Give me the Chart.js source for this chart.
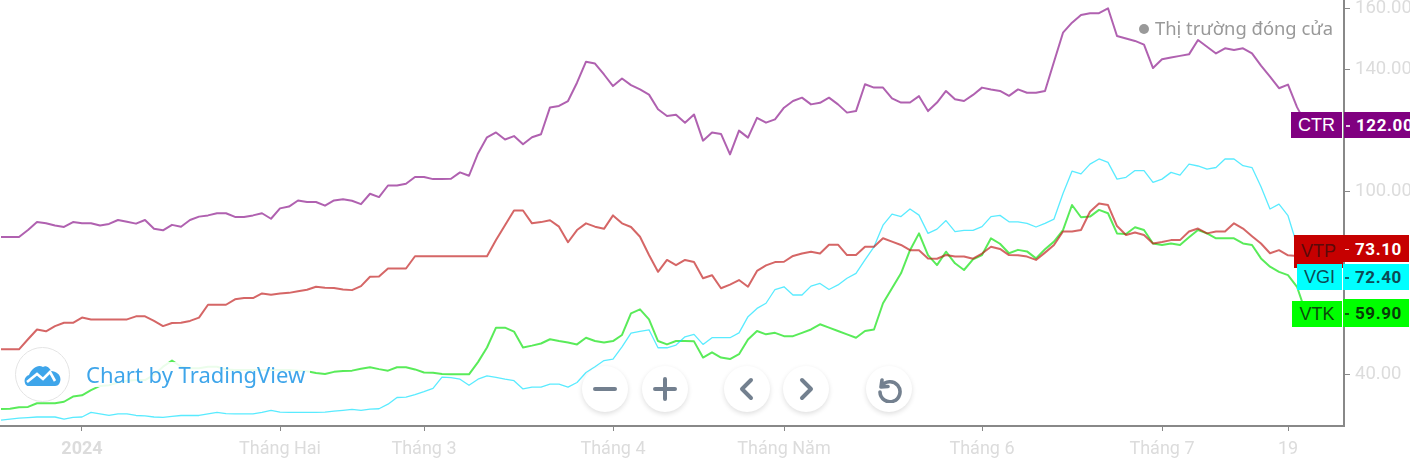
<!DOCTYPE html>
<html><head><meta charset="utf-8">
<script src="https://cdn.jsdelivr.net/npm/chart.js@4"></script>
<style>
html,body{margin:0;padding:0;background:#fff;width:1410px;height:460px;overflow:hidden}
#wrap{position:relative;width:1410px;height:460px}
canvas{position:absolute;left:0;top:0}
.tag{position:absolute;display:flex;align-items:center;justify-content:center;font-family:"Liberation Sans",Arial,sans-serif;font-size:18px;box-sizing:border-box}
.val{justify-content:flex-start;padding-left:12px;font-family:Roboto,sans-serif;font-weight:700;font-size:17px;letter-spacing:.6px}
.val i{position:absolute;left:2px;top:50%;width:4px;height:1.5px;background:currentColor;opacity:.8}
.btn{position:absolute;top:366px;width:46px;height:46px;border-radius:50%;background:#fff;box-shadow:0 2px 5px rgba(0,0,0,.13);display:flex;align-items:center;justify-content:center}
#legend{position:absolute;left:1139px;top:16px;color:#999;font:18.4px "Noto Sans",sans-serif;white-space:nowrap;line-height:24px}
#legend b{display:inline-block;width:10px;height:10px;border-radius:50%;background:#999;margin-right:6px;vertical-align:1px}
#wm{position:absolute;left:84px;top:362px;height:25px;width:226px;background:rgba(255,255,255,.88);color:#3ea5ea;font:22px "Noto Sans",sans-serif;line-height:24px;padding-left:2px;box-sizing:border-box;white-space:nowrap}
#logo{position:absolute;left:15px;top:347px;width:55px;height:55px;border-radius:50%;border:1px solid #e4e4e4;background:#fff;box-sizing:border-box;display:flex;align-items:center;justify-content:center}
</style></head><body>
<div id="wrap">
<canvas id="c" width="1410" height="460"></canvas>
<div id="legend"><b></b>Thị trường đóng cửa</div>
<div id="logo"><svg width="38" height="24" viewBox="0 0 38 24"><path d="M2 22C-1 18 1 13 5 12 8 5 14 1 19 4 22 2 26 5 27 8 33 8 38 13 36 19 35 22 33 23 31 23H5C4 23 3 23 2 22Z" fill="#3ea5ea"/><path d="M3 19 13 11 19 16 26 9 31 18" fill="none" stroke="#fff" stroke-width="2.6"/></svg></div>
<div id="wm">Chart by TradingView</div>
<div class="btn" style="left:582px"><svg width="24" height="24" viewBox="0 0 24 24"><path d="M2 12H22" stroke="#73808f" stroke-width="4" stroke-linecap="round"/></svg></div>
<div class="btn" style="left:642px"><svg width="24" height="24" viewBox="0 0 24 24"><path d="M2 12H22M12 2V22" stroke="#73808f" stroke-width="4" stroke-linecap="round"/></svg></div>
<div class="btn" style="left:724px"><svg width="24" height="24" viewBox="0 0 24 24"><path d="M16 3 7 12 16 21" fill="none" stroke="#73808f" stroke-width="4" stroke-linecap="round" stroke-linejoin="round"/></svg></div>
<div class="btn" style="left:783px"><svg width="24" height="24" viewBox="0 0 24 24"><path d="M8 3 17 12 8 21" fill="none" stroke="#73808f" stroke-width="4" stroke-linecap="round" stroke-linejoin="round"/></svg></div>
<div class="btn" style="left:866px"><svg width="28" height="28" viewBox="0 0 28 28"><path d="M7 5 6 12 13 11.5M6.5 11.5A10 10 0 1 1 5 17" fill="none" stroke="#73808f" stroke-width="3.6" stroke-linecap="round" stroke-linejoin="round"/></svg></div>
<div id="tags"></div>
</div>
<script>
const tickPositions = [9,31,47,68,87,109,129,143];
const tickLabels = ["2024","Tháng Hai","Tháng 3","Tháng 4","Tháng Năm","Tháng 6","Tháng 7","19"];
const priceTicks = [40,60,80,100,120,140,160];
const CTR = [84.9,84.9,84.9,87.2,89.8,89.4,88.7,88.2,89.8,89.4,
89.4,88.7,89.2,90.5,89.9,89.3,90.5,87.6,87.1,88.9,
88.3,90.5,91.6,92.0,92.7,92.7,91.5,91.5,92.0,92.7,
90.9,94.3,94.9,96.9,96.4,96.4,95.2,96.9,97.3,96.8,
95.7,99.1,98.0,101.8,101.8,102.4,104.6,104.6,103.9,103.9,
104.0,106.1,105.0,112.3,117.6,119.2,116.9,118.0,115.3,117.6,
118.6,127.4,127.9,129.5,135.5,142.4,141.8,138.2,134.4,136.9,
134.7,133.3,131.6,126.8,124.6,125.0,122.4,125.1,116.5,119.2,
118.7,112.0,119.8,117.5,124.0,122.4,123.5,127.3,129.5,130.6,
128.4,128.9,130.6,128.4,125.7,126.2,135.0,133.9,133.9,130.4,
129.0,129.0,131.1,126.2,129.0,132.8,130.1,129.5,131.5,133.9,
133.3,132.8,131.2,133.3,132.2,132.2,132.8,142.4,151.9,155.2,
157.7,158.3,158.3,159.9,150.8,150.0,149.2,148.0,140.3,143.2,
143.8,144.3,144.8,149.5,147.3,145.1,146.8,146.2,146.8,145.1,
141.1,137.5,133.7,134.9,127.5,122.0];
const VTP = [48.1,48.1,48.1,51.4,54.6,54.0,55.7,56.8,56.8,58.5,
57.9,57.9,57.9,57.9,57.9,58.9,58.9,57.4,55.7,56.7,
56.8,57.4,58.5,62.7,62.7,62.7,64.5,64.9,64.9,66.4,
66.0,66.4,66.6,67.1,67.6,68.6,68.3,68.2,67.7,67.5,
68.8,71.9,72.0,74.6,74.6,74.6,78.6,78.6,78.6,78.6,
78.6,78.6,78.6,78.6,78.6,83.9,88.8,93.6,93.6,89.4,
89.8,90.4,88.3,83.2,87.2,89.4,88.3,87.6,92.0,89.4,
88.2,85.0,79.0,73.5,77.4,75.7,77.4,76.7,71.4,72.4,
68.1,69.3,70.8,68.6,73.8,75.6,76.7,76.8,78.7,79.5,
80.1,79.5,82.4,82.4,79.0,79.0,81.7,81.7,84.5,83.4,
82.3,80.6,80.6,77.9,77.8,79.0,78.5,78.5,77.8,79.5,
81.7,81.0,79.0,78.9,78.5,77.4,79.8,82.3,86.7,86.7,
87.2,93.2,95.9,95.4,88.5,85.6,86.4,85.6,82.8,83.3,
83.9,83.9,86.7,87.7,86.1,86.7,86.7,89.4,87.7,85.2,
82.8,79.6,80.6,78.9,78.7,73.1];
const VGI = [24.9,25.2,25.5,25.7,25.9,25.9,25.9,25.2,25.8,25.9,
27.4,26.9,26.4,26.9,26.9,26.4,26.3,25.9,25.8,26.1,
26.4,26.4,26.4,26.9,27.4,27.0,26.9,26.9,26.9,27.4,
28.1,27.5,27.4,27.4,27.4,27.4,27.5,27.8,28.1,28.4,
28.1,28.5,28.6,30.1,32.3,32.4,33.2,34.2,35.3,39.0,
38.8,38.3,36.3,38.3,39.4,38.9,38.3,37.8,35.1,35.7,
35.7,36.7,36.7,35.7,37.2,40.5,42.4,44.4,44.9,48.9,
53.4,54.0,54.5,48.6,48.6,49.5,52.2,53.0,49.7,51.9,
51.9,51.9,53.5,58.8,61.5,63.2,67.7,68.6,65.9,65.9,
68.8,69.7,67.7,69.2,71.4,73.0,77.4,81.7,88.8,92.4,
91.6,94.1,92.1,86.1,87.5,90.3,86.7,87.1,87.1,88.3,
91.6,92.0,89.9,89.9,89.4,88.2,89.4,90.8,99.2,106.5,
105.6,108.8,110.5,109.4,103.9,104.5,106.7,106.7,102.8,103.9,
106.1,105.2,108.8,108.2,107.2,107.7,110.5,110.5,108.3,107.7,
101.4,94.1,95.7,91.9,82.3,72.4];
const VTK = [28.5,28.6,29.1,29.2,30.4,30.4,30.4,30.9,32.6,33.0,
34.7,36.1,36.3,37.2,37.8,38.0,38.0,39.7,42.4,44.4,
42.4,41.9,41.9,42.4,42.4,41.5,41.3,41.3,41.3,41.3,
41.3,41.3,41.3,41.1,40.9,40.3,40.0,40.7,41.0,41.1,
41.7,42.2,41.6,41.1,42.2,42.2,41.5,40.5,40.4,40.0,
39.9,39.9,39.9,43.9,48.7,55.2,55.2,53.9,48.7,49.3,
50.0,51.4,50.8,50.3,49.7,51.9,50.8,50.3,50.8,52.8,
59.9,61.2,57.9,50.8,49.7,50.8,50.8,50.7,45.4,47.1,
45.4,44.9,46.5,51.3,54.1,53.0,53.5,52.4,52.4,53.5,
54.6,56.3,55.2,54.1,53.0,51.9,54.1,54.6,63.2,68.1,
73.0,80.6,86.1,79.0,75.7,80.1,76.3,74.1,77.6,79.0,
84.5,82.7,79.6,80.7,80.2,77.9,80.9,83.4,87.2,95.4,
91.4,91.6,93.8,92.7,86.1,85.9,88.1,87.2,82.8,82.3,
82.8,82.3,84.8,87.2,86.1,84.5,84.5,84.5,82.8,82.3,
77.9,75.2,73.5,72.4,68.6,59.9];
const tagNames = ["CTR","VTP","VGI","VTK"];
const tagValues = ["122.00","73.10","72.40","59.90"];

const pts = a => a.map((y,x)=>({x,y}));
const series = (label,data,borderColor,borderWidth)=>({label,data:pts(data),borderColor,borderWidth,pointRadius:0,tension:0,fill:false,borderJoinStyle:'round'});
new Chart(document.getElementById('c'),{
  type:'line',
  data:{datasets:[
    series('VTP',VTP,'rgba(190,20,20,.65)',2),
    series('CTR',CTR,'rgba(128,0,128,.62)',2),
    series('VGI',VGI,'rgba(0,225,255,.65)',1.3),
    series('VTK',VTK,'rgba(0,225,0,.65)',2)
  ]},
  options:{
    responsive:false,animation:false,devicePixelRatio:1,
    layout:{padding:0},
    plugins:{legend:{display:false},tooltip:{enabled:false}},
    scales:{
      x:{type:'linear',min:-1/9,max:1343/9,
        afterBuildTicks:s=>{s.ticks=tickPositions.map(value=>({value}));},
        afterFit:s=>{s.height=34;s.paddingLeft=0;s.paddingRight=0;},
        grid:{drawOnChartArea:false,color:'#888',tickLength:5,lineWidth:1},
        border:{color:'#888',width:2},
        ticks:{autoSkip:false,maxRotation:0,padding:8,color:'#dcdcdc',
          font:c=>({family:'Roboto',size:18,weight:c.index===0?'700':'400'}),
          callback:v=>tickLabels[tickPositions.indexOf(v)]}},
      y:{position:'right',min:40-52/3.05,max:160+8/3.05,
        afterBuildTicks:s=>{s.ticks=priceTicks.map(value=>({value}));},
        afterFit:s=>{s.width=66;s.paddingTop=0;s.paddingBottom=0;},
        grid:{drawOnChartArea:false,color:'#888',tickLength:6,lineWidth:1},
        border:{color:'#888',width:2},
        ticks:{padding:5,color:'#dcdcdc',font:{family:'Roboto',size:18.5},callback:v=>v.toFixed(2)}}
    }
  }
});
const boxes=[
 {n:[1291,112,51,26],v:[1344,112,66,26],bg:'#800080',nc:'#fff',vc:'#fff'},
 {n:[1294,235,49,33],v:[1343,235,66,27],bg:'#c60000',nc:'#5a0a0a',vc:'#fff'},
 {n:[1297,264,45,26],v:[1343,264,66,26],bg:'#00ffff',nc:'#0d4a55',vc:'#0d4a55'},
 {n:[1292,301,50,26],v:[1343,299,66,28],bg:'#00ff00',nc:'#0b4a0b',vc:'#073b07'}
];
const host=document.getElementById('tags');
boxes.forEach((b,i)=>{
  const mk=(r,txt,col,cls,tick)=>{const d=document.createElement('div');d.className=cls;
    d.style.cssText=`left:${r[0]}px;top:${r[1]}px;width:${r[2]}px;height:${r[3]}px;background:${b.bg};color:${col}`;
    d.textContent=txt;if(tick)d.appendChild(document.createElement('i'));host.appendChild(d);};
  mk(b.n,tagNames[i],b.nc,'tag');
  mk(b.v,tagValues[i],b.vc,'tag val',true);
});
</script>
</body></html>
